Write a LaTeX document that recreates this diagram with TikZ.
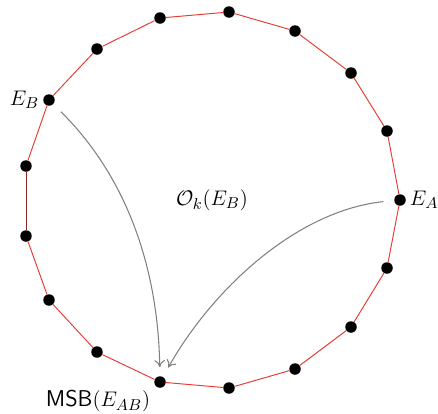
\documentclass[tikz,border=0pt]{standalone}
\usetikzlibrary{arrows.meta,positioning}
\definecolor{edgered}{RGB}{228,62,52}
\begin{document}
\begin{tikzpicture}[x=0.02cm,y=-0.02cm,>={To[length=4pt,width=6pt]},
  pt/.style={circle,fill=black,inner sep=0pt,minimum size=0.23cm},
  edge/.style={edgered,line width=0.55pt},
  lbl/.style={font=\fontsize{13}{15}\selectfont,inner sep=1pt},
  orbit/.style={->,gray,line width=0.6pt}]
  \useasboundingbox (0,0) rectangle (438,413);
  \foreach \n/\x/\y in {1/229/12,2/295/31,3/351/73,4/387/131,5/400/200,
      6/387/268,7/351/327,8/295/369,9/229/388,10/160/382,11/97/352,
      12/49/300,13/26/236,14/26/166,15/49/100,16/97/49,17/160/18}
    \node[pt] (p\n) at (\x,\y) {};
  \foreach \a/\b in {1/2,2/3,3/4,4/5,5/6,6/7,7/8,8/9,9/10,10/11,11/12,
      12/13,14/15,15/16,16/17,17/1}
    \draw[edge] (p\a) -- (p\b);
  \draw[edge,edgered!60!black] (p13) -- (p14);
  \node[lbl,left=1pt of p15] (eb) {$E_B$};
  \node[lbl,right=1pt of p5] (ea) {$E_A$};
  \node[lbl,below left=1pt and 2pt of p10] (msb) {\textsf{MSB}$(E_{AB})$};
  \node[lbl] (ok) at (212,200) {$\mathcal{O}_k(E_B)$};
  \draw[orbit,shorten <=6pt,shorten >=5pt] (p15) .. controls (125,175) and (158,265) .. (p10);
  \draw[orbit,shorten <=6pt,shorten >=6pt] (p5) .. controls (300,210) and (215,285) .. (p10);
\end{tikzpicture}
\end{document}
